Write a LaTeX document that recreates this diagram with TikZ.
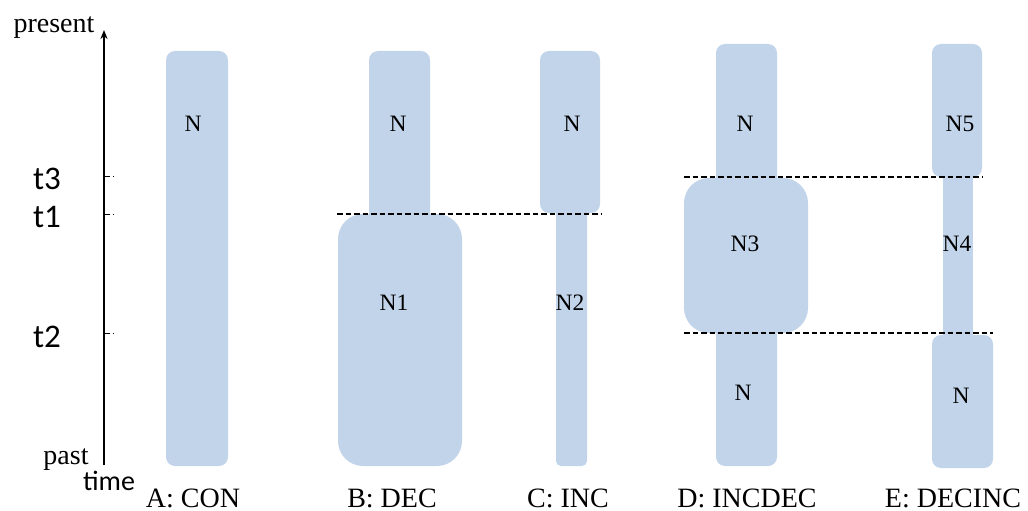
\documentclass[tikz,border=0pt]{standalone}
\usepackage{fontspec}
\setmainfont{Liberation Serif}
\newfontfamily\calib{Carlito}
\usetikzlibrary{arrows.meta}
\definecolor{barblue}{RGB}{194,212,234}
\tikzset{
  x=1pt, y=-1pt,
  bar/.style={fill=barblue, draw=none},
  cell/.style={inner sep=0pt, font=\fontsize{23.5}{27}\selectfont},
  caption/.style={inner sep=0pt, anchor=base, font=\fontsize{28}{32}\selectfont},
  tlabel/.style={inner sep=0pt, font=\calib\fontsize{33}{38}\selectfont},
  boundary/.style={line width=1.2pt, dash pattern=on 5.5pt off 3pt},
  tick/.style={line width=0.8pt, dash pattern=on 6pt off 3pt on 1pt off 5pt}
}
\begin{document}
\begin{tikzpicture}
\useasboundingbox (0,0) rectangle (1028,511);

% time axis
\coordinate (axbot) at (104,465);
\coordinate (axtop) at (104,30);
\draw[line width=1.5pt, -{Stealth[length=9pt,width=7pt]}] (axbot) -- (axtop);
\node[inner sep=0pt, anchor=base, font=\fontsize{28}{32}\selectfont] (present) at (54,33) {present};
\node[inner sep=0pt, anchor=base, font=\fontsize{28}{32}\selectfont] (past) at (66,464) {past};
\node[inner sep=0pt, anchor=base, font=\calib\fontsize{28}{32}\selectfont] (time) at (109,490) {time};

% time marks
\coordinate (k3) at (104,176);
\coordinate (k1) at (104,214);
\coordinate (k2) at (104,333);
\draw[tick] (k3) -- ++(12,0);
\draw[tick] (k1) -- ++(12,0);
\draw[tick] (k2) -- ++(12,0);
\node[tlabel] (t3) at (47,179) {t3};
\node[tlabel] (t1) at (47,217) {t1};
\node[tlabel] (t2) at (47,337) {t2};

% A: constant
\fill[bar, rounded corners=9pt] (166,51) rectangle (228,466);
\node[cell] (a) at (193,124) {N};

% B: decrease
\fill[bar, rounded corners=9pt] (369,51) rectangle (430,240);
\fill[bar, rounded corners=25pt] (338,214) rectangle (462,466);
\node[cell] (b) at (398,124) {N};
\node[cell] (b1) at (394,303) {N1};

% C: increase
\fill[bar, rounded corners=5pt] (556,190) rectangle (587,466);
\fill[bar, rounded corners=9pt] (540,51) rectangle (600,213);
\node[cell] (c) at (572,124) {N};
\node[cell] (c2) at (570,303) {N2};

% D: increase then decrease
\fill[bar, rounded corners=9pt] (716,44) rectangle (777,200);
\fill[bar, rounded corners=9pt] (716,310) rectangle (777,466);
\fill[bar, rounded corners=25pt] (684,178) rectangle (808,333);
\node[cell] (d) at (745,124) {N};
\node[cell] (d3) at (745,244) {N3};
\node[cell] (dd) at (743,393) {N};

% E: decrease then increase
\fill[bar] (943,165) rectangle (973,345);
\fill[bar, rounded corners=9pt] (932,44) rectangle (982,177);
\fill[bar, rounded corners=9pt] (932,335) rectangle (993,468);
\node[cell] (e5) at (960,124) {N5};
\node[cell] (e4) at (957,244) {N4};
\node[cell] (e) at (961,396) {N};

% boundaries
\coordinate (l1a) at (337,214);
\coordinate (l1b) at (601,214);
\coordinate (l3a) at (684,177);
\coordinate (l3b) at (982,177);
\coordinate (l2a) at (684,333);
\coordinate (l2b) at (993,333);
\draw[boundary] (l1a) -- (l1b);
\draw[boundary] (l3a) -- (l3b);
\draw[boundary] (l2a) -- (l2b);

% captions
\node[caption] (capA) at (193,507) {A: CON};
\node[caption] (capB) at (392,507) {B: DEC};
\node[caption] (capC) at (568,507) {C: INC};
\node[caption] (capD) at (747,507) {D: INCDEC};
\node[caption] (capE) at (953,507) {E: DECINC};
\end{tikzpicture}
\end{document}
